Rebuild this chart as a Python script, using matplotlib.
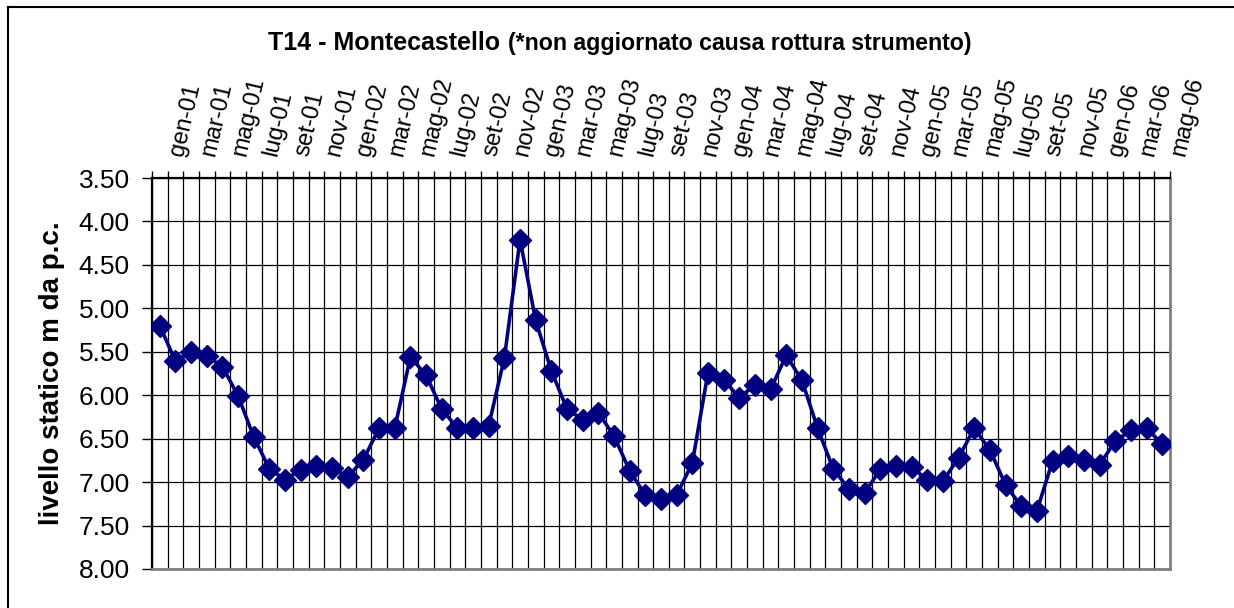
# T14 - Montecastello: livello statico mensile (gen-01 .. mag-06)
import matplotlib
matplotlib.use("Agg")
import matplotlib.pyplot as plt
import matplotlib.transforms as mtransforms
import numpy as np

plt.rcParams['font.family'] = ['Liberation Sans', 'DejaVu Sans']

# months on the category axis
mesi = ["gen", "feb", "mar", "apr", "mag", "giu", "lug", "ago", "set", "ott", "nov", "dic"]
anni = ["01", "02", "03", "04", "05", "06"]
categorie = [m + "-" + a for a in anni for m in mesi][:65]

# static level (m below ground)
livello = [5.20, 5.61, 5.50, 5.55, 5.67, 6.01, 6.48, 6.85, 6.97, 6.86, 6.81, 6.84,
           6.94, 6.74, 6.38, 6.38, 5.56, 5.77, 6.16, 6.38, 6.38, 6.35, 5.57, 4.21,
           5.14, 5.72, 6.16, 6.28, 6.20, 6.47, 6.87, 7.15, 7.19, 7.15, 6.78, 5.74,
           5.82, 6.03, 5.88, 5.93, 5.54, 5.83, 6.38, 6.85, 7.08, 7.13, 6.85, 6.81,
           6.83, 6.97, 6.99, 6.72, 6.38, 6.63, 7.03, 7.28, 7.33, 6.76, 6.70, 6.74,
           6.80, 6.53, 6.40, 6.38, 6.56]

y_ticks = [3.5, 4.0, 4.5, 5.0, 5.5, 6.0, 6.5, 7.0, 7.5, 8.0]

W, H = 1234, 608
fig = plt.figure(figsize=(W / 100, H / 100), dpi=100)
ax = fig.add_axes([152 / W, 1 - 569 / H, (1170 - 152) / W, (569 - 178) / H])

x = np.arange(len(livello))
ax.plot(x, livello, color="#000080", lw=2.6, marker="D", ms=11,
        mec="#000080", mfc="#000080", zorder=3)

# axes: reversed y, categories on top
ax.set_xlim(-0.5, len(categorie) - 0.5)
ax.set_ylim(8.0, 3.5)
ax.set_yticks(y_ticks)
ax.set_yticklabels(["%.2f" % v for v in y_ticks], fontsize=19)

ax.xaxis.tick_top()
ax.set_xticks(x[::2])
ax.set_xticklabels(categorie[::2], fontsize=17, rotation=77,
                   rotation_mode="anchor", ha="left", va="center")
ax.set_xticks(np.arange(-0.5, len(categorie), 1.0), minor=True)
ax.tick_params(axis="x", which="major", length=0, pad=16)
ax.tick_params(axis="x", which="minor", length=5, width=1, direction="out", top=True, bottom=False)
ax.tick_params(axis="y", length=7, width=1, direction="out", pad=9)

# shift the slanted month labels a bit right
offset = mtransforms.ScaledTranslation(17 / 100, 0, fig.dpi_scale_trans)
for lab in ax.get_xticklabels():
    lab.set_transform(lab.get_transform() + offset)

# grid
ax.grid(True, axis="x", which="minor", color="black", lw=0.9)
ax.grid(True, axis="y", which="major", color="black", lw=0.9)
ax.set_axisbelow(True)

for side in ["top", "left"]:
    ax.spines[side].set_color("black")
    ax.spines[side].set_linewidth(1.6)
for side in ["bottom", "right"]:
    ax.spines[side].set_color("#808080")
    ax.spines[side].set_linewidth(2)

ax.set_ylabel("livello statico m da p.c.", fontsize=20, fontweight="bold", labelpad=10)

# title in two pieces, second one placed right after the first
t1 = fig.text(268 / W, 1 - 50 / H, "T14 - Montecastello", fontsize=18, fontweight="bold",
              ha="left", va="baseline")
fig.canvas.draw()
bb = t1.get_window_extent()
fig.text((bb.x1 + 8) / W, 1 - 50 / H, "(*non aggiornato causa rottura strumento)", fontsize=16.7,
         fontweight="bold", ha="left", va="baseline")

# chart frame (only left and top edges visible)
fig.add_artist(plt.Line2D([7.5 / W, 7.5 / W], [0, 1 - 6.5 / H], transform=fig.transFigure,
                          color="black", lw=1.5))
fig.add_artist(plt.Line2D([7.5 / W, 1], [1 - 6.5 / H, 1 - 6.5 / H], transform=fig.transFigure,
                          color="black", lw=1.5))

fig.savefig("out.png", dpi=100)
